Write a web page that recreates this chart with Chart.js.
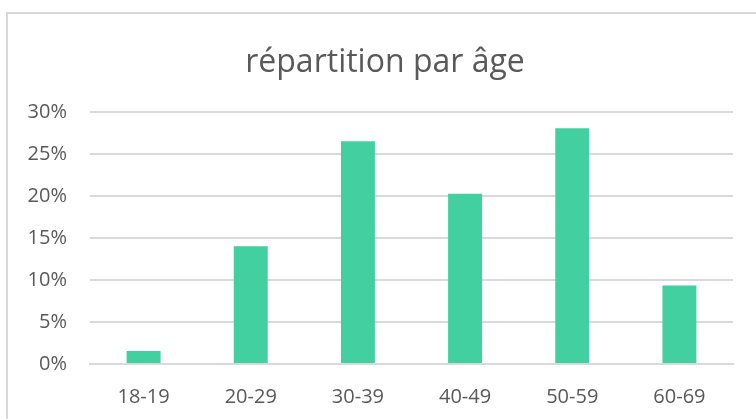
<!DOCTYPE html>
<html>
<head>
<meta charset="utf-8">
<script src="https://cdn.jsdelivr.net/npm/chart.js@4"></script>
<style>
  html, body { margin: 0; padding: 0; background: #fff; overflow: hidden; }
  /* canevas un peu plus large que la fenêtre pour centrer le titre comme dans Excel */
  #wrap { position: absolute; left: 0; top: 0; width: 770px; height: 419px; }
  #cadre { position: absolute; left: 6px; top: 12px; width: 800px; height: 500px;
           border: 2px solid #d9d9d9; box-sizing: border-box; pointer-events: none; }
</style>
</head>
<body>
<div id="wrap"><canvas id="graphique"></canvas></div>
<div id="cadre"></div>
<script>
const categories = ['18-19', '20-29', '30-39', '40-49', '50-59', '60-69']
const repartition = [1.55, 14.05, 26.55, 20.3, 28.1, 9.37]
const ticksY = ['0%', '5%', '10%', '15%', '20%', '25%', '30%']

const gris = '#595959'

new Chart(document.getElementById('graphique'), {
  type: 'bar',
  data: {
    labels: categories,
    datasets: [{
      label: 'répartition par âge',
      data: repartition,
      backgroundColor: '#43d0a1',
      borderWidth: 0,
      barPercentage: 0.317,
      categoryPercentage: 1
    }]
  },
  options: {
    responsive: true,
    maintainAspectRatio: false,
    animation: false,
    layout: { padding: { left: 0, right: 0, top: 0, bottom: 10 } },
    plugins: {
      legend: { display: false },
      tooltip: { enabled: false },
      title: {
        display: true,
        text: 'répartition par âge',
        color: gris,
        font: { family: 'Open Sans', size: 32, weight: 'normal' },
        padding: { top: 44, bottom: 30 }
      }
    },
    scales: {
      x: {
        afterFit: s => { s.height = 45 },
        grid: { display: false, drawTicks: false },
        border: { display: true, color: '#d9d9d9', width: 2 },
        ticks: { color: gris, font: { family: 'Open Sans', size: 20 }, padding: 21 }
      },
      y: {
        min: 0,
        max: 30,
        afterFit: s => { s.width = 90 },
        afterBuildTicks: s => { s.ticks = ticksY.map((t, i) => ({ value: i * 5 })) },
        grid: { color: '#d9d9d9', lineWidth: 2, drawTicks: false },
        border: { display: false },
        ticks: {
          color: gris,
          font: { family: 'Open Sans', size: 20 },
          padding: 23,
          callback: (v, i) => ticksY[i]
        }
      },
      // axe vide à droite, juste pour la marge
      marge: {
        position: 'right',
        afterFit: s => { s.width = 37 },
        grid: { display: false },
        border: { display: false },
        ticks: { display: false }
      }
    }
  }
})
</script>
</body>
</html>
